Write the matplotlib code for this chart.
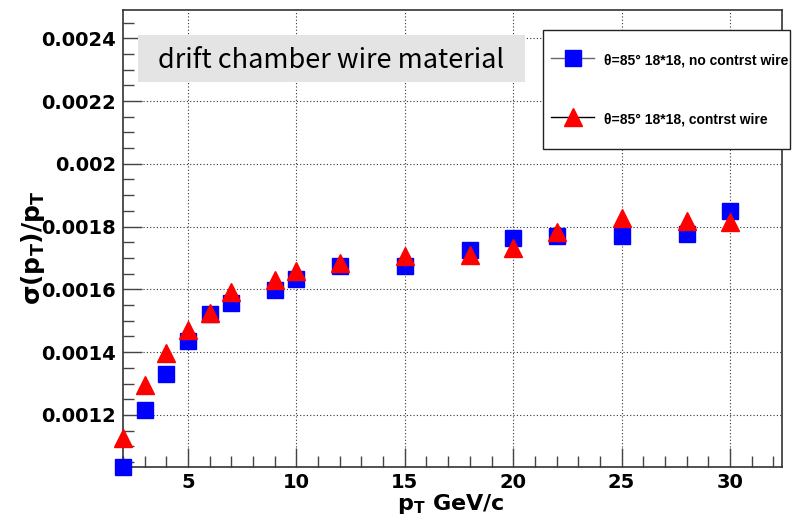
import numpy as np
import matplotlib.pyplot as plt
from matplotlib.patches import Rectangle
from matplotlib.ticker import MultipleLocator, FixedLocator

# pT points (GeV/c)
pt = [2, 3, 4, 5, 6, 7, 9, 10, 12, 15, 18, 20, 22, 25, 28, 30]

# sigma(pT)/pT, 18*18 cells, theta = 85 deg
no_contrst = [0.001035, 0.001215, 0.001329, 0.001435, 0.001520, 0.001555, 0.001597, 0.001632,
              0.001673, 0.001673, 0.001724, 0.001765, 0.001771, 0.001770, 0.001777, 0.001850]
contrst = [0.001127, 0.001296, 0.001396, 0.001472, 0.001526, 0.001591, 0.001630, 0.001660,
           0.001684, 0.001706, 0.001711, 0.001732, 0.001782, 0.001826, 0.001819, 0.001814]

labels = ["\u03b8=85\u00b0 18*18, no contrst wire", "\u03b8=85\u00b0 18*18, contrst wire"]
y_ticks = [0.0012, 0.0014, 0.0016, 0.0018, 0.002, 0.0022, 0.0024]
y_ticklabels = ["0.0012", "0.0014", "0.0016", "0.0018", "0.002", "0.0022", "0.0024"]

W, H = 794, 521
fig = plt.figure(figsize=(W / 100, H / 100), dpi=100)
ax = fig.add_axes([123 / W, 1 - 467 / H, (782 - 123) / W, (467 - 10) / H])

ax.plot(pt, no_contrst, ls='none', marker='s', ms=12, color='#0000ff', mec='#0000ff',
        label=labels[0], zorder=3, clip_on=False)
ax.plot(pt, contrst, ls='none', marker='^', ms=12.5, color='#ff0000', mec='#ff0000',
        label=labels[1], zorder=4, clip_on=False)

ax.set_xlim(2, 32.4)
ax.set_ylim(0.001034, 0.00249)

ax.xaxis.set_major_locator(MultipleLocator(5))
ax.xaxis.set_minor_locator(MultipleLocator(1))
ax.yaxis.set_major_locator(FixedLocator(y_ticks))
ax.yaxis.set_minor_locator(MultipleLocator(0.00005))
ax.set_yticks(y_ticks)
ax.set_yticklabels(y_ticklabels)

ax.tick_params(which='both', direction='in', top=False, right=False, width=1, color='#444444')
ax.tick_params(which='major', length=14)
ax.tick_params(which='minor', length=8)
ax.tick_params(axis='x', pad=4)
ax.tick_params(axis='y', pad=5)
for lab in ax.get_xticklabels() + ax.get_yticklabels():
    lab.set_fontfamily('DejaVu Sans')
    lab.set_fontweight('bold')
    lab.set_fontsize(14)

ax.grid(True, which='major', ls=(0, (1, 2)), color='#333333', lw=0.8)
for s in ax.spines.values():
    s.set_color('#333333')
    s.set_linewidth(1.2)

ax.set_xlabel(r'$\mathbf{p_{T}}$ GeV/c', fontsize=16, fontweight='bold', family='DejaVu Sans')
ax.xaxis.set_label_coords(0.498, -0.055)
ax.set_ylabel(r'$\mathbf{\sigma(p_{T})/p_{T}}$', fontsize=18, family='DejaVu Sans')
ax.yaxis.set_label_coords(-0.115, 0.48)

# title box
fig.patches.append(Rectangle((138 / W, 1 - 82 / H), (525 - 138) / W, 47 / H,
                             transform=fig.transFigure, fc='#e4e4e4', ec='none', zorder=5))
fig.text(331 / W, 1 - 60 / H, 'drift chamber wire material', fontsize=19.5,
         family='Noto Sans CJK SC', ha='center', va='center', zorder=6)

# legend frame (drawn inside the axes so the legend sits on top of it)
ax.add_patch(Rectangle((543 / W, 1 - 149 / H), (790 - 543) / W, 119 / H,
                       transform=fig.transFigure, fc='white', ec='#222222', lw=1.0,
                       zorder=9, clip_on=False))
leg = ax.legend(loc='center left', bbox_to_anchor=(551 / W, 1 - 89.5 / H),
                bbox_transform=fig.transFigure, frameon=False,
                prop={'family': 'Liberation Sans', 'weight': 'bold', 'size': 10},
                borderpad=0, handleheight=1.5, labelspacing=3.0, handlelength=3.1,
                handletextpad=0.7, borderaxespad=0)
leg.set_zorder(10)
# reference style: line through each marker in the legend
for h, c in zip(leg.legend_handles, ['#666666', '#000000']):
    h.set_linestyle('-')
    h.set_color(c)
    h.set_linewidth(1.0)
leg.legend_handles[0].set_markerfacecolor('#0000ff')
leg.legend_handles[0].set_markeredgecolor('#0000ff')
leg.legend_handles[1].set_markerfacecolor('#ff0000')
leg.legend_handles[1].set_markeredgecolor('#ff0000')

fig.savefig('out.png', dpi=100)
